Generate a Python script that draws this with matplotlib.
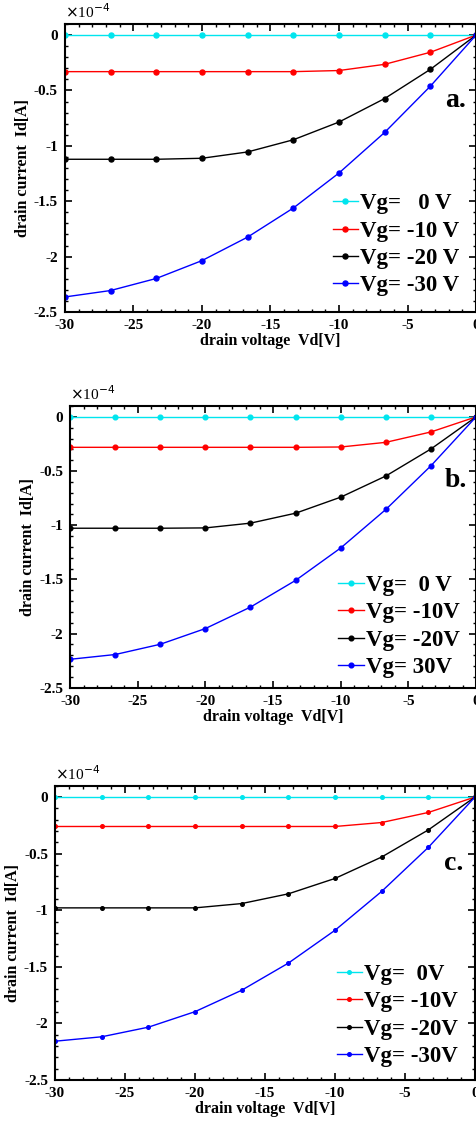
import matplotlib
matplotlib.use("Agg")
import matplotlib.pyplot as plt
from matplotlib.ticker import FuncFormatter, MultipleLocator

plt.rcParams['font.family'] = ['Liberation Serif', 'DejaVu Serif']
plt.rcParams['axes.unicode_minus'] = False

# drain voltage (V)
vd = [-30, -26.67, -23.33, -20, -16.67, -13.33, -10, -6.67, -3.33, 0]

# drain current in units of 1e-4 A
a_vg0 = [0, 0, 0, 0, 0, 0, 0, 0, 0, 0]
a_vg10 = [-0.33, -0.33, -0.33, -0.33, -0.33, -0.33, -0.32, -0.264, -0.155, 0]
a_vg20 = [-1.121, -1.121, -1.121, -1.112, -1.055, -0.945, -0.785, -0.573, -0.309, 0]
a_vg30 = [-2.364, -2.306, -2.197, -2.036, -1.824, -1.561, -1.245, -0.879, -0.461, 0]

b_vg0 = [0, 0, 0, 0, 0, 0, 0, 0, 0, 0]
b_vg10 = [-0.281, -0.281, -0.281, -0.281, -0.281, -0.281, -0.278, -0.235, -0.139, 0]
b_vg20 = [-1.028, -1.028, -1.028, -1.025, -0.981, -0.889, -0.741, -0.546, -0.296, 0]
b_vg30 = [-2.238, -2.194, -2.099, -1.954, -1.756, -1.509, -1.210, -0.855, -0.451, 0]

c_vg0 = [0, 0, 0, 0, 0, 0, 0, 0, 0, 0]
c_vg10 = [-0.26, -0.26, -0.26, -0.26, -0.26, -0.26, -0.26, -0.225, -0.136, 0]
c_vg20 = [-0.979, -0.979, -0.979, -0.979, -0.941, -0.855, -0.719, -0.530, -0.290, 0]
c_vg30 = [-2.157, -2.118, -2.033, -1.896, -1.707, -1.467, -1.177, -0.834, -0.444, 0]

labels_a = ['Vg=   0 V', 'Vg= -10 V', 'Vg= -20 V', 'Vg= -30 V']
labels_b = ['Vg=  0 V', 'Vg= -10V', 'Vg= -20V', 'Vg= 30V']
labels_c = ['Vg=  0V', 'Vg= -10V', 'Vg= -20V', 'Vg= -30V']
colors = ['#00e5ee', '#ff0000', '#000000', '#0000ff']

xticks = [-30, -25, -20, -15, -10, -5, 0]
yticks = [-2.5, -2, -1.5, -1, -0.5, 0]

fig = plt.figure(figsize=(4.77, 11.22), dpi=100)

panels = [
    ([0.136, 0.7219, 0.862, 0.2567], [a_vg0, a_vg10, a_vg20, a_vg30], labels_a, 'a.', 3.6, 0.055),
    ([0.147, 0.3871, 0.851, 0.2510], [b_vg0, b_vg10, b_vg20, b_vg30], labels_b, 'b.', 3.4, 0.035),
    ([0.1153, 0.0374, 0.8805, 0.2623], [c_vg0, c_vg10, c_vg20, c_vg30], labels_c, 'c.', 2.6, 0.045),
]

fmt = FuncFormatter(lambda v, p: '%g' % v)

for rect, series, labels, tag, ms, ly in panels:
    ax = fig.add_axes(rect)
    for ys, lab, col in zip(series, labels, colors):
        ax.plot(vd, ys, '-o', color=col, lw=1.0, ms=ms, label=lab)
    ax.set_xlim(-30, 0)
    ax.set_ylim(-2.5, 0.1)
    ax.set_xticks(xticks)
    ax.set_yticks(yticks)
    ax.xaxis.set_minor_locator(MultipleLocator(1))
    ax.yaxis.set_minor_locator(MultipleLocator(0.1))
    ax.xaxis.set_major_formatter(fmt)
    ax.yaxis.set_major_formatter(fmt)
    ax.tick_params(which='both', direction='in', top=True, right=True)
    ax.tick_params(which='major', length=5, width=1.2, labelsize=11, pad=5)
    ax.tick_params(which='minor', length=2.5, width=1.0)
    for lbl in ax.get_xticklabels() + ax.get_yticklabels():
        lbl.set_fontweight('bold')
    for s in ax.spines.values():
        s.set_linewidth(1.5)
    ax.set_xlabel('drain voltage  Vd[V]', fontsize=11.5, fontweight='bold', labelpad=1)
    ax.set_ylabel('drain current  Id[A]', fontsize=11.5, fontweight='bold', labelpad=2)
    ax.text(0.0, 1.01, r'$\times$10$^{-4}$', transform=ax.transAxes, fontsize=11,
            ha='left', va='bottom')
    ax.text(0.95, 0.735, tag, transform=ax.transAxes, fontsize=20, fontweight='bold',
            ha='center', va='center')
    ax.legend(loc='lower right', bbox_to_anchor=(0.96, ly), frameon=False,
              prop={'weight': 'bold', 'size': 16.5}, labelspacing=0.27,
              handlelength=1.1, handletextpad=0.1, borderpad=0, borderaxespad=0)

fig.savefig('out.png', dpi=100)
